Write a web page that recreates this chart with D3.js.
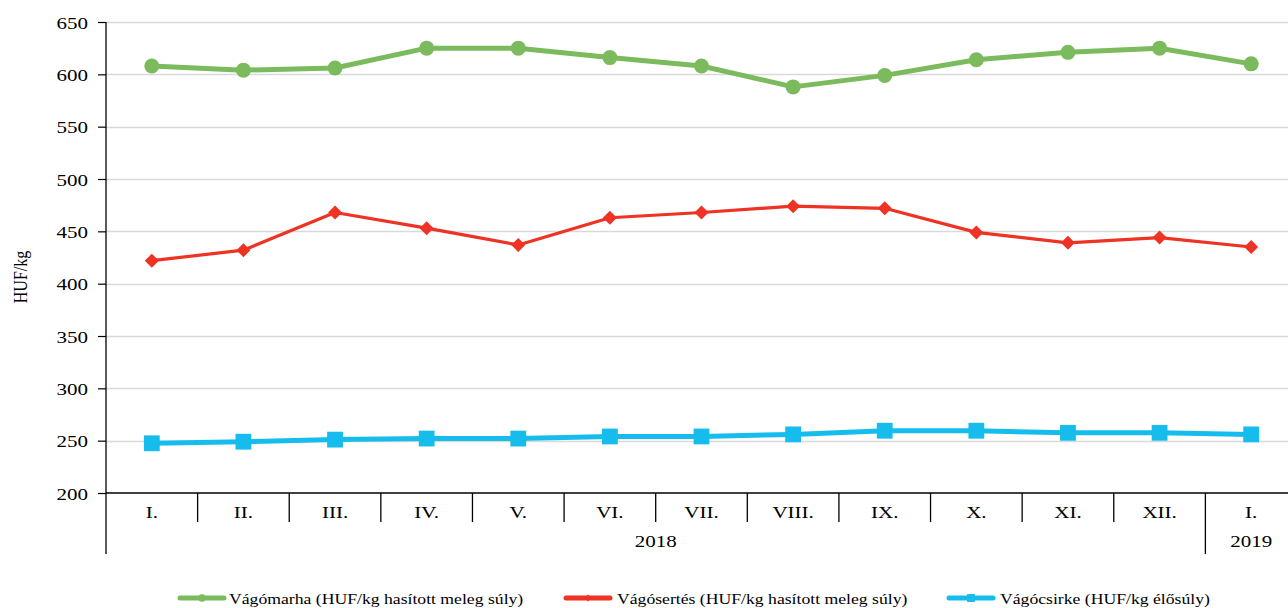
<!DOCTYPE html>
<html>
<head>
<meta charset="utf-8">
<script src="https://cdn.jsdelivr.net/npm/d3@7"></script>
<style>
  html, body { margin: 0; padding: 0; background: #fff; }
  svg { display: block; }
  text { font-family: "Liberation Serif", "Times New Roman", serif; fill: #000; }
</style>
</head>
<body>
<svg id="chart" width="1288" height="608"></svg>
<script>
const months = ["I.", "II.", "III.", "IV.", "V.", "VI.", "VII.", "VIII.", "IX.", "X.", "XI.", "XII.", "I."];
const years = [{label: "2018", from: 0, to: 11}, {label: "2019", from: 12, to: 12}];
const marha = [608, 604, 606, 625, 625, 616, 608, 588, 599, 614, 621, 625, 610];
const sertes = [422, 432, 468, 453, 437, 463, 468, 474, 472, 449, 439, 444, 435];
const csirke = [247.5, 249, 251, 252, 252, 254, 254, 256, 259.5, 259.5, 257.5, 257.5, 256];
const yTicks = [200, 250, 300, 350, 400, 450, 500, 550, 600, 650];
const seriesNames = ["Vágómarha (HUF/kg hasított meleg súly)", "Vágósertés (HUF/kg hasított meleg súly)", "Vágócsirke (HUF/kg élősúly)"];
const yTitle = "HUF/kg";

const series = [
  {name: seriesNames[0], values: marha, color: "#7cba5e", width: 5, marker: "circle"},
  {name: seriesNames[1], values: sertes, color: "#ee3224", width: 3.2, marker: "diamond"},
  {name: seriesNames[2], values: csirke, color: "#16bdec", width: 5, marker: "square"}
];

const SX = 1.2;   // horizontal stretch of axis text in the reference
const SXL = 1.14; // horizontal stretch of legend text
const svg = d3.select("#chart");
const left = 106, plotTop = 22, plotBottom = 493, right = 1297;

const x = d3.scaleBand().domain(d3.range(months.length)).range([left, right]).padding(0);
const y = d3.scaleLinear().domain([200, 650]).range([plotBottom, plotTop]);

function stretchText(sel, px, py, k) {
  sel.attr("x", 0).attr("y", 0)
     .attr("transform", (d, i) => `translate(${px(d, i)},${py(d, i)}) scale(${k || SX},1)`);
}

// gridlines
svg.append("g").selectAll("line").data(yTicks.filter(d => d > 200)).join("line")
  .attr("x1", left).attr("x2", 1288)
  .attr("y1", d => Math.round(y(d)) + 0.5).attr("y2", d => Math.round(y(d)) + 0.5)
  .attr("stroke", "#d9d9d9").attr("stroke-width", 1.5);

// y axis
const yAxis = d3.axisLeft(y).tickValues(yTicks).tickSize(8).tickPadding(8).tickFormat(d3.format("d"));
const gy = svg.append("g").attr("transform", `translate(${left},0)`).call(yAxis)
  .attr("font-family", "Liberation Serif").attr("font-size", 17.5);
gy.select(".domain").remove();
gy.selectAll(".tick line").attr("stroke", "#000").attr("stroke-width", 1.2);
gy.selectAll(".tick text").attr("dy", null)
  .attr("transform", `translate(-18,6) scale(${SX},1)`).attr("x", 0)
  .style("font-family", "Liberation Serif").style("font-size", "17.5px");
svg.append("line").attr("x1", left).attr("x2", left).attr("y1", plotTop).attr("y2", 554)
  .attr("stroke", "#000").attr("stroke-width", 1.3);

// x axis
svg.append("line").attr("x1", left).attr("x2", 1288).attr("y1", plotBottom).attr("y2", plotBottom)
  .attr("stroke", "#000").attr("stroke-width", 1.3);
svg.append("g").selectAll("line").data(d3.range(1, months.length)).join("line")
  .attr("x1", d => x(d)).attr("x2", d => x(d))
  .attr("y1", plotBottom).attr("y2", d => years.some(yr => yr.from === d) ? 554 : 522)
  .attr("stroke", "#000").attr("stroke-width", 1.3);
svg.append("g").selectAll("text").data(months).join("text")
  .attr("text-anchor", "middle").style("font-size", "17.5px").text(d => d)
  .call(stretchText, (d, i) => x(i) + x.bandwidth() / 2, () => 518);
svg.append("g").selectAll("text").data(years).join("text")
  .attr("text-anchor", "middle").style("font-size", "17.5px").text(d => d.label)
  .call(stretchText, d => (x(d.from) + x(d.to) + x.bandwidth()) / 2, () => 547);

// y title
svg.append("text").attr("transform", `translate(27,277) rotate(-90) scale(1,${SX})`)
  .attr("text-anchor", "middle").style("font-size", "16px").text(yTitle);

// lines & markers
const cx = i => x(i) + x.bandwidth() / 2;
const line = d3.line().x((d, i) => cx(i)).y(d => y(d));
function drawMarker(g, type, color, px, py, scale) {
  if (type === "circle") {
    g.append("circle").attr("cx", px).attr("cy", py).attr("r", 7.5 * scale).attr("fill", color);
  } else if (type === "diamond") {
    const s = 7 * scale;
    g.append("path").attr("d", `M${px},${py - s}L${px + s},${py}L${px},${py + s}L${px - s},${py}Z`).attr("fill", color);
  } else {
    const s = 7.9 * scale;
    g.append("rect").attr("x", px - s).attr("y", py - s).attr("width", 2 * s).attr("height", 2 * s).attr("fill", color);
  }
}
series.forEach(s => {
  const g = svg.append("g");
  g.append("path").datum(s.values).attr("d", line).attr("fill", "none")
    .attr("stroke", s.color).attr("stroke-width", s.width).attr("stroke-linejoin", "round");
  s.values.forEach((v, i) => drawMarker(g, s.marker, s.color, cx(i), y(v), 1));
});

// legend
const legendLineX = [178, 564, 947];
const legendTextX = [229, 617, 1000];
const lg = svg.append("g");
series.forEach((s, i) => {
  const lx = legendLineX[i], ly = 598;
  lg.append("line").attr("x1", lx + 2).attr("x2", lx + 46).attr("y1", ly).attr("y2", ly)
    .attr("stroke", s.color).attr("stroke-width", 5).attr("stroke-linecap", "round");
  drawMarker(lg, s.marker, s.color, lx + 24, ly, 0.5);
  lg.append("text").style("font-size", "15.5px").text(s.name)
    .call(stretchText, () => legendTextX[i], () => ly + 5.5, SXL);
});
</script>
</body>
</html>
